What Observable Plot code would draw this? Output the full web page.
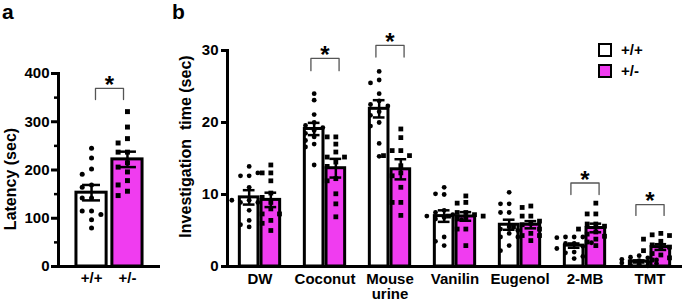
<!DOCTYPE html>
<html>
<head>
<meta charset="utf-8">
<script src="https://cdn.jsdelivr.net/npm/d3@7"></script>
<script src="https://cdn.jsdelivr.net/npm/@observablehq/plot@0.6"></script>
<style>
  body { margin: 0; background: #fff; font-family: "Liberation Sans", Arial, sans-serif; }
  #wrap { position: relative; width: 685px; height: 304px; overflow: hidden; background: #fff; }
  .panel { position: absolute; top: 0; }
  .plab { position: absolute; font-weight: bold; font-size: 21px; line-height: 1; }
  .leg { position: absolute; left: 598px; font-weight: bold; font-size: 15px; line-height: 1; display: flex; align-items: center; }
  .sw { width: 10px; height: 10px; border: 2px solid #000; margin-right: 9px; }
</style>
</head>
<body>
<div id="wrap">
  <div id="pa" class="panel" style="left:0"></div>
  <div id="pb" class="panel" style="left:170px"></div>
  <div class="plab" style="left:2px;top:1px">a</div>
  <div class="plab" style="left:172px;top:1px">b</div>
  <div class="leg" style="top:42px"><div class="sw" style="background:#fff"></div>+/+</div>
  <div class="leg" style="top:63px"><div class="sw" style="background:#f03cf0"></div>+/-</div>
</div>
<script>
// ---------- data ----------
const genotypes = ["+/+", "+/-"];
const colors = ["#ffffff", "#f03cf0"];

// panel a: latency
const latencyMean = [153, 222];
const latencySem = [16, 16];
const latencyWT = [245, 225, 202, 191, 169, 164, 142, 142, 115, 115, 108, 97, 80];
const latencyHet = [321, 289, 265, 256, 237, 237, 215, 206, 196, 178, 169, 156, 147];
const latencyBracket = [346, 369]; // leg bottom, top

// panel b: investigation time
const categories = ["DW", "Coconut", "Mouse\nurine", "Vanilin", "Eugenol", "2-MB", "TMT"];
const meanWT = [9.6, 19.1, 21.9, 7.0, 5.8, 2.9, 0.7];
const meanHet = [9.25, 13.65, 13.5, 6.95, 5.8, 5.35, 2.7];
const semWT = [1.0, 0.85, 1.2, 0.8, 0.7, 0.3, 0.15];
const semHet = [1.0, 1.3, 1.4, 0.6, 0.5, 0.6, 0.4];
const pointsWT = [
  [13.9, 12.6, 12.6, 13.0, 11.0, 9.2, 8.9, 8.9, 9.2, 7.8, 6.4, 5.5, 5.8],
  [24.0, 23.1, 21.1, 20.0, 19.6, 19.3, 18.9, 18.5, 18.0, 17.5, 17.0, 16.6, 14.1],
  [27.1, 25.9, 25.5, 24.0, 23.0, 22.5, 22.3, 21.5, 21.0, 20.0, 19.5, 17.1, 15.3],
  [11.0, 10.0, 10.1, 7.8, 7.5, 7.2, 7.0, 6.8, 6.6, 6.5, 4.1, 3.5, 2.9],
  [10.3, 8.7, 8.7, 7.5, 7.5, 5.5, 5.2, 5.0, 4.6, 4.1, 4.1, 2.9, 2.2],
  [4.1, 4.1, 4.1, 4.0, 3.3, 3.2, 3.2, 2.8, 2.5, 2.0, 1.9, 1.4, 1.1],
  [1.5, 1.3, 1.2, 1.0, 0.9, 0.8, 0.7, 0.6, 0.5, 0.4, 0.3, 0.2, 0.1]
];
const pointsHet = [
  [14.1, 13.0, 13.0, 11.9, 10.2, 9.6, 8.9, 8.0, 7.3, 7.3, 6.4, 5.0, 6.0],
  [18.0, 18.0, 17.0, 15.9, 15.2, 15.2, 14.5, 13.9, 12.2, 11.9, 10.1, 8.7, 6.9],
  [19.1, 17.9, 16.1, 16.1, 15.4, 15.4, 14.0, 13.0, 12.6, 11.0, 8.9, 8.9, 7.1],
  [9.8, 8.9, 8.8, 7.5, 7.5, 7.2, 7.0, 7.0, 6.8, 6.6, 5.2, 5.2, 2.9],
  [8.4, 8.2, 7.0, 7.0, 6.3, 6.0, 5.8, 5.5, 5.2, 4.6, 4.3, 4.3, 3.6],
  [8.8, 7.3, 7.3, 5.9, 5.9, 5.6, 5.2, 4.8, 4.5, 4.2, 3.8, 3.4, 2.9],
  [4.6, 4.4, 4.3, 3.8, 3.5, 3.0, 2.7, 2.5, 2.2, 1.8, 1.6, 1.2, 0.9]
];
const sigCategories = ["Coconut", "Mouse\nurine", "2-MB", "TMT"];
const bracketLeg = [27.2, 29.1, 10.0, 7.1];
const bracketTop = [28.9, 30.7, 11.6, 8.6];

// ---------- shared style / layout helpers ----------
const FONT = '"Liberation Sans", Arial, sans-serif';
const baseStyle = {fontFamily: FONT, fontWeight: "bold", fontSize: "15px", background: "transparent", overflow: "visible", color: "#000"};
const BRACKET = "#555";

// simple deterministic column layout (scatter beside the bar), like the original dot plot
function columns(values, pxPerUnit, minDist) {
  const order = [0, -1, 1, -2, 2];
  const placed = [];
  return values.map(v => {
    const py = v * pxPerUnit;
    let best = 0, bestGap = -1;
    for (const c of order) {
      const gaps = placed.filter(p => p.c === c).map(p => Math.abs(p.py - py));
      const gap = gaps.length ? Math.min(...gaps) : Infinity;
      if (gap >= minDist) { best = c; bestGap = Infinity; break; }
      if (gap > bestGap) { bestGap = gap; best = c; }
    }
    placed.push({c: best, py});
    return best;
  });
}

// ---------- panel a ----------
const A = {w: 165, h: 304, mt: 73, mb: 38, ml: 58, mr: 5, ymax: 400};
const aPx = (A.h - A.mt - A.mb) / A.ymax;
const aCenter = [-0.5, 0.5], aHalf = 0.42, aCap = 0.25, aCol = 0.26, aBr = 0.39;
const barsA = genotypes.map((g, i) => ({g, c: aCenter[i], mean: latencyMean[i], sem: latencySem[i], fill: colors[i]}));
const ptsA = [];
[latencyWT, latencyHet].forEach((arr, i) => {
  const cols = columns(arr, aPx, 6);
  arr.forEach((v, j) => ptsA.push({g: genotypes[i], v, x: aCenter[i] + cols[j] * aCol}));
});
const brA = [
  {x: -aBr, y: latencyBracket[0]}, {x: -aBr, y: latencyBracket[1]},
  {x: aBr, y: latencyBracket[1]}, {x: aBr, y: latencyBracket[0]}
];

const plotA = Plot.plot({
  width: A.w, height: A.h,
  marginLeft: A.ml, marginRight: A.mr, marginTop: A.mt, marginBottom: A.mb,
  style: baseStyle,
  x: {domain: [-1.42, 1.42], label: null},
  y: {domain: [0, A.ymax], label: null},
  color: {type: "identity"},
  marks: [
    Plot.rectY(barsA, {x1: d => d.c - aHalf, x2: d => d.c + aHalf, y: "mean", fill: "fill", stroke: "#000", strokeWidth: 3}),
    Plot.dot(ptsA.filter(d => d.g === "+/+"), {x: "x", y: "v", r: 2.5, fill: "#000"}),
    Plot.dot(ptsA.filter(d => d.g === "+/-"), {x: "x", y: "v", r: 2.8, symbol: "square", fill: "#000"}),
    Plot.ruleX(barsA, {x: "c", y1: d => d.mean - d.sem, y2: d => d.mean + d.sem, stroke: "#000", strokeWidth: 2.5}),
    Plot.ruleY(barsA, {x1: d => d.c - aCap, x2: d => d.c + aCap, y: d => d.mean + d.sem, stroke: "#000", strokeWidth: 2.5}),
    Plot.ruleY(barsA, {x1: d => d.c - aCap, x2: d => d.c + aCap, y: d => d.mean - d.sem, stroke: "#000", strokeWidth: 2.5}),
    Plot.line(brA, {x: "x", y: "y", stroke: BRACKET, strokeWidth: 1.3}),
    Plot.text(["*"], {y: latencyBracket[1], text: d => d, fontSize: 24, dy: -3}),
    Plot.ruleY([0], {stroke: "#000", strokeWidth: 3}),
    Plot.frame({anchor: "left", stroke: "#000", strokeWidth: 3}),
    Plot.axisY({ticks: [0, 100, 200, 300, 400], tickSize: 7, tickPadding: 2, strokeWidth: 3, label: null}),
    Plot.axisY({ticks: [50, 150, 250, 350], tickSize: 4, strokeWidth: 2.5, tickFormat: () => "", label: null}),
    Plot.axisX({ticks: aCenter, tickFormat: d => genotypes[aCenter.indexOf(d)], tickSize: 0, tickPadding: 6, label: null}),
    Plot.text(["Latency (sec)"], {frameAnchor: "left", textAnchor: "middle", rotate: -90, dx: -48, dy: 9, fontSize: 16, text: d => d})
  ]
});
document.getElementById("pa").append(plotA);

// ---------- panel b ----------
const B = {w: 515, h: 304, mt: 50, mb: 38, ml: 54, mr: 1, ymax: 30};
const bPx = (B.h - B.mt - B.mb) / B.ymax;
const bCenter = [-0.5, 0.5], bHalf = 0.43, bCap = 0.27, bCol = 0.4, bBr = 0.65;
const barsB = [];
const ptsB = [];
categories.forEach((cat, i) => {
  [[meanWT, semWT, pointsWT], [meanHet, semHet, pointsHet]].forEach(([m, s, p], k) => {
    barsB.push({cat, g: genotypes[k], c: bCenter[k], mean: m[i], sem: s[i], fill: colors[k]});
    const cols = columns(p[i], bPx, 6);
    p[i].forEach((v, j) => ptsB.push({cat, g: genotypes[k], v, x: bCenter[k] + cols[j] * bCol}));
  });
});
const brB = [];
const starB = [];
sigCategories.forEach((cat, i) => {
  brB.push({cat, x: -bBr, y: bracketLeg[i]}, {cat, x: -bBr, y: bracketTop[i]},
           {cat, x: bBr, y: bracketTop[i]}, {cat, x: bBr, y: bracketLeg[i]});
  starB.push({cat, y: bracketTop[i]});
});

const plotB = Plot.plot({
  width: B.w, height: B.h,
  marginLeft: B.ml, marginRight: B.mr, marginTop: B.mt, marginBottom: B.mb,
  style: baseStyle,
  fx: {domain: categories, padding: 0, label: null},
  x: {domain: [-1.5, 1.5], axis: null},
  y: {domain: [0, B.ymax], label: null},
  color: {type: "identity"},
  marks: [
    Plot.rectY(barsB, {fx: "cat", x1: d => d.c - bHalf, x2: d => d.c + bHalf, y: "mean", fill: "fill", stroke: "#000", strokeWidth: 3}),
    Plot.dot(ptsB.filter(d => d.g === "+/+"), {fx: "cat", x: "x", y: "v", r: 2.4, fill: "#000"}),
    Plot.dot(ptsB.filter(d => d.g === "+/-"), {fx: "cat", x: "x", y: "v", r: 2.7, symbol: "square", fill: "#000"}),
    Plot.ruleX(barsB, {fx: "cat", x: "c", y1: d => d.mean - d.sem, y2: d => d.mean + d.sem, stroke: "#000", strokeWidth: 2.5}),
    Plot.ruleY(barsB, {fx: "cat", x1: d => d.c - bCap, x2: d => d.c + bCap, y: d => d.mean + d.sem, stroke: "#000", strokeWidth: 2.5}),
    Plot.ruleY(barsB, {fx: "cat", x1: d => d.c - bCap, x2: d => d.c + bCap, y: d => d.mean - d.sem, stroke: "#000", strokeWidth: 2.5}),
    Plot.line(brB, {fx: "cat", x: "x", y: "y", z: "cat", stroke: BRACKET, strokeWidth: 1.3}),
    Plot.text(starB, {fx: "cat", y: "y", text: () => "*", fontSize: 24, dy: -3}),
    Plot.ruleY([0], {stroke: "#000", strokeWidth: 3}),
    Plot.frame({anchor: "left", facetAnchor: "left", stroke: "#000", strokeWidth: 3}),
    Plot.axisY({ticks: [0, 10, 20, 30], tickSize: 6, tickPadding: 3, strokeWidth: 3, label: null}),
    Plot.axisFx({anchor: "bottom", tickSize: 0, tickPadding: 6, lineHeight: 1.05, label: null}),
    Plot.text(["Investigation\u00a0\u00a0time (sec)"], {frameAnchor: "left", facetAnchor: "left", textAnchor: "middle", rotate: -90, dx: -42, dy: -12, fontSize: 16, text: d => d})
  ]
});
document.getElementById("pb").append(plotB);
</script>
</body>
</html>
